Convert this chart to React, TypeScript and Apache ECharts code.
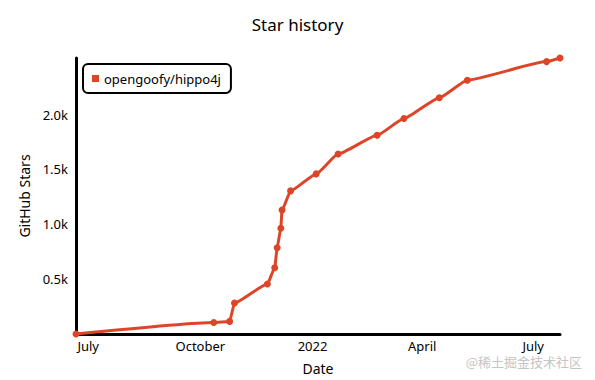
import React, { useEffect, useRef } from "react";
import * as echarts from "echarts";

const seriesName = "opengoofy/hippo4j";
const dates = [
  "2021-06-21", "2021-10-12", "2021-10-25", "2021-10-29", "2021-11-25",
  "2021-12-01", "2021-12-03", "2021-12-06", "2021-12-07", "2021-12-14",
  "2022-01-04", "2022-01-22", "2022-02-23", "2022-03-17", "2022-04-15",
  "2022-05-08", "2022-07-12", "2022-07-23",
];
const stars = [
  0, 104, 115, 282, 455,
  604, 786, 964, 1129, 1304,
  1459, 1640, 1811, 1964, 2153,
  2313, 2482, 2515,
];
const yTickValues = [500, 1000, 1500, 2000];
const yTickLabels = ["0.5k", "1.0k", "1.5k", "2.0k"];
const monthNames = [
  "January", "February", "March", "April", "May", "June",
  "July", "August", "September", "October", "November", "December",
];
const titleText = "Star history";
const xAxisName = "Date";
const yAxisName = "GitHub Stars";
const watermark = "@稀土掘金技术社区";

const FONT = "'Noto Sans', 'DejaVu Sans', sans-serif";
const RED = "#dd4528";
const DAY = 86400000;

export default function App() {
  const ref = useRef<HTMLDivElement>(null);
  useEffect(() => {
    if (!ref.current) return;
    const chart = echarts.init(ref.current, null, { renderer: "svg" });
    const data = dates.map((d, i) => [d, stars[i]]);
    chart.setOption({
      animation: false,
      backgroundColor: "#ffffff",
      textStyle: { fontFamily: FONT },
      title: {
        text: titleText,
        left: "center",
        top: 11,
        textStyle: { fontFamily: FONT, fontSize: 17, fontWeight: "normal", color: "#000" },
      },
      legend: {
        left: 83,
        top: 64,
        padding: [8, 10, 8, 9],
        icon: "rect",
        itemWidth: 7,
        itemHeight: 7,
        itemGap: 5,
        borderColor: "#000",
        borderWidth: 2,
        borderRadius: 5,
        backgroundColor: "#fff",
        textStyle: { fontFamily: FONT, fontSize: 13, color: "#000" },
        data: [seriesName],
      },
      grid: { left: 76, right: 35, top: 58, bottom: 42 },
      xAxis: {
        type: "time",
        min: dates[0],
        max: dates[dates.length - 1],
        minInterval: 95 * DAY,
        maxInterval: 100 * DAY,
        name: xAxisName,
        nameLocation: "middle",
        nameGap: 27,
        nameTextStyle: { fontFamily: FONT, fontSize: 14, color: "#000" },
        axisLine: { show: true, lineStyle: { color: "#000", width: 3 } },
        axisTick: { show: false },
        splitLine: { show: false },
        axisLabel: {
          fontFamily: FONT,
          fontSize: 13,
          color: "#000",
          margin: 5,
          hideOverlap: false,
          formatter: (value: number) => {
            const d = new Date(value);
            if (d.getDate() !== 1 || d.getHours() !== 0) return "";
            if (d.getMonth() === 0) return String(d.getFullYear());
            return monthNames[d.getMonth()];
          },
        },
      },
      yAxis: {
        type: "value",
        min: 0,
        max: "dataMax",
        interval: 500,
        name: yAxisName,
        nameLocation: "middle",
        nameGap: 45,
        nameTextStyle: { fontFamily: FONT, fontSize: 14, color: "#000" },
        axisLine: { show: true, lineStyle: { color: "#000", width: 3 } },
        axisTick: { show: false },
        splitLine: { show: false },
        axisLabel: {
          fontFamily: FONT,
          fontSize: 13,
          color: "#000",
          margin: 8,
          formatter: (value: number) => {
            const idx = yTickValues.indexOf(value);
            return idx >= 0 ? yTickLabels[idx] : "";
          },
        },
      },
      graphic: [
        {
          type: "text",
          right: 13,
          top: 355,
          style: {
            text: watermark,
            fill: "#c4c4c4",
            font: "13px 'Noto Sans CJK SC', sans-serif",
          },
          z: 100,
        },
      ],
      series: [
        {
          name: seriesName,
          type: "line",
          data,
          smooth: 0.15,
          smoothMonotone: "x",
          symbol: "circle",
          symbolSize: 7,
          showSymbol: true,
          color: RED,
          lineStyle: { color: RED, width: 3 },
          itemStyle: { color: RED },
        },
      ],
    });
    return () => chart.dispose();
  }, []);
  return (
    <div
      ref={ref}
      style={{ position: "fixed", left: 0, top: 0, width: 595, height: 380 }}
    />
  );
}
